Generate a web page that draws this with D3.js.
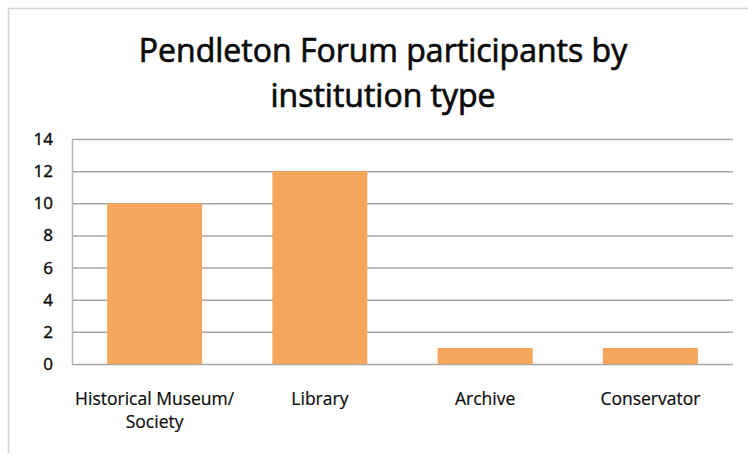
<!DOCTYPE html>
<html>
<head>
<meta charset="utf-8">
<script src="https://cdn.jsdelivr.net/npm/d3@7"></script>
<style>
  body { margin: 0; background: #fff; }
  text { font-family: "Open Sans", "Noto Sans", sans-serif; fill: #0a0a0a; }
</style>
</head>
<body>
<div id="chart-area"></div>
<script>
// dados do gráfico
const categories = ["Historical Museum/\nSociety", "Library", "Archive", "Conservator"]
const participants = [10, 12, 1, 1]
const yTicks = [0, 2, 4, 6, 8, 10, 12, 14]
const titleLines = ["Pendleton Forum participants by", "institution type"]

const W = 748, H = 453
const margin = { left: 72, right: 15, top: 139, bottom: 89 }
const width = W - margin.left - margin.right
const height = H - margin.top - margin.bottom

const svg = d3.select("#chart-area").append("svg")
  .attr("width", W)
  .attr("height", H)

// moldura do gráfico (só topo e esquerda aparecem)
svg.append("path")
  .attr("d", `M8.5,${H} V8.5 H${W}`)
  .attr("fill", "none")
  .attr("stroke", "#d4d4d4")
  .attr("stroke-width", 1.5)

// título (traço fino para engrossar um pouco a fonte regular)
svg.append("g").selectAll("text")
  .data(titleLines)
  .enter().append("text")
    .attr("x", 383)
    .attr("y", (d, i) => 62 + i * 45)
    .attr("text-anchor", "middle")
    .attr("font-size", "32px")
    .attr("stroke", "#0a0a0a")
    .attr("stroke-width", 0.7)
    .text(d => d)

const grafico = svg.append("g")
  .attr("transform", `translate(${margin.left}, ${margin.top})`)

const x = d3.scaleBand()
  .domain(categories)
  .range([0, width])
  .paddingInner(0.425)
  .paddingOuter(0.2125)

const y = d3.scaleLinear()
  .domain([0, 14])
  .range([height, 0])

// linhas de grade
grafico.append("g")
  .selectAll("line")
  .data(yTicks)
  .enter().append("line")
    .attr("x1", 0)
    .attr("x2", width)
    .attr("y1", d => y(d) + 0.5)
    .attr("y2", d => y(d) + 0.5)
    .attr("stroke", "#a8a8a8")
    .attr("stroke-width", 1.5)

// eixo y
const yAxisCall = d3.axisLeft(y).tickValues(yTicks).tickSize(0).tickPadding(19)
const yAxis = grafico.append("g").call(yAxisCall)
yAxis.select(".domain").attr("stroke", "#b8b8b8").attr("stroke-width", 1.5)
yAxis.selectAll("text")
  .attr("font-size", "17px")
  .attr("font-family", "Open Sans, sans-serif")
  .attr("fill", "#0a0a0a")
  .attr("stroke", "#0a0a0a")
  .attr("stroke-width", 0.4)

// barras
grafico.selectAll("rect")
  .data(participants)
  .enter().append("rect")
    .attr("x", (d, i) => x(categories[i]))
    .attr("y", d => y(d))
    .attr("width", x.bandwidth())
    .attr("height", d => height - y(d))
    .attr("fill", "#f5a65d")

// eixo x (rótulos)
const xAxisCall = d3.axisBottom(x).tickSize(0).tickPadding(0).tickFormat("")
const xAxis = grafico.append("g")
  .attr("transform", `translate(0, ${height})`)
  .call(xAxisCall)
xAxis.select(".domain").remove()
xAxis.selectAll(".tick").each(function (d) {
  const t = d3.select(this).append("text")
    .attr("text-anchor", "middle")
    .attr("font-size", "17.5px")
    .attr("fill", "#0a0a0a")
    .attr("stroke", "#0a0a0a")
    .attr("stroke-width", 0.2)
  d.split("\n").forEach((line, i) => {
    t.append("tspan").attr("x", 0).attr("y", 41 + i * 23).text(line)
  })
})
</script>
</body>
</html>
